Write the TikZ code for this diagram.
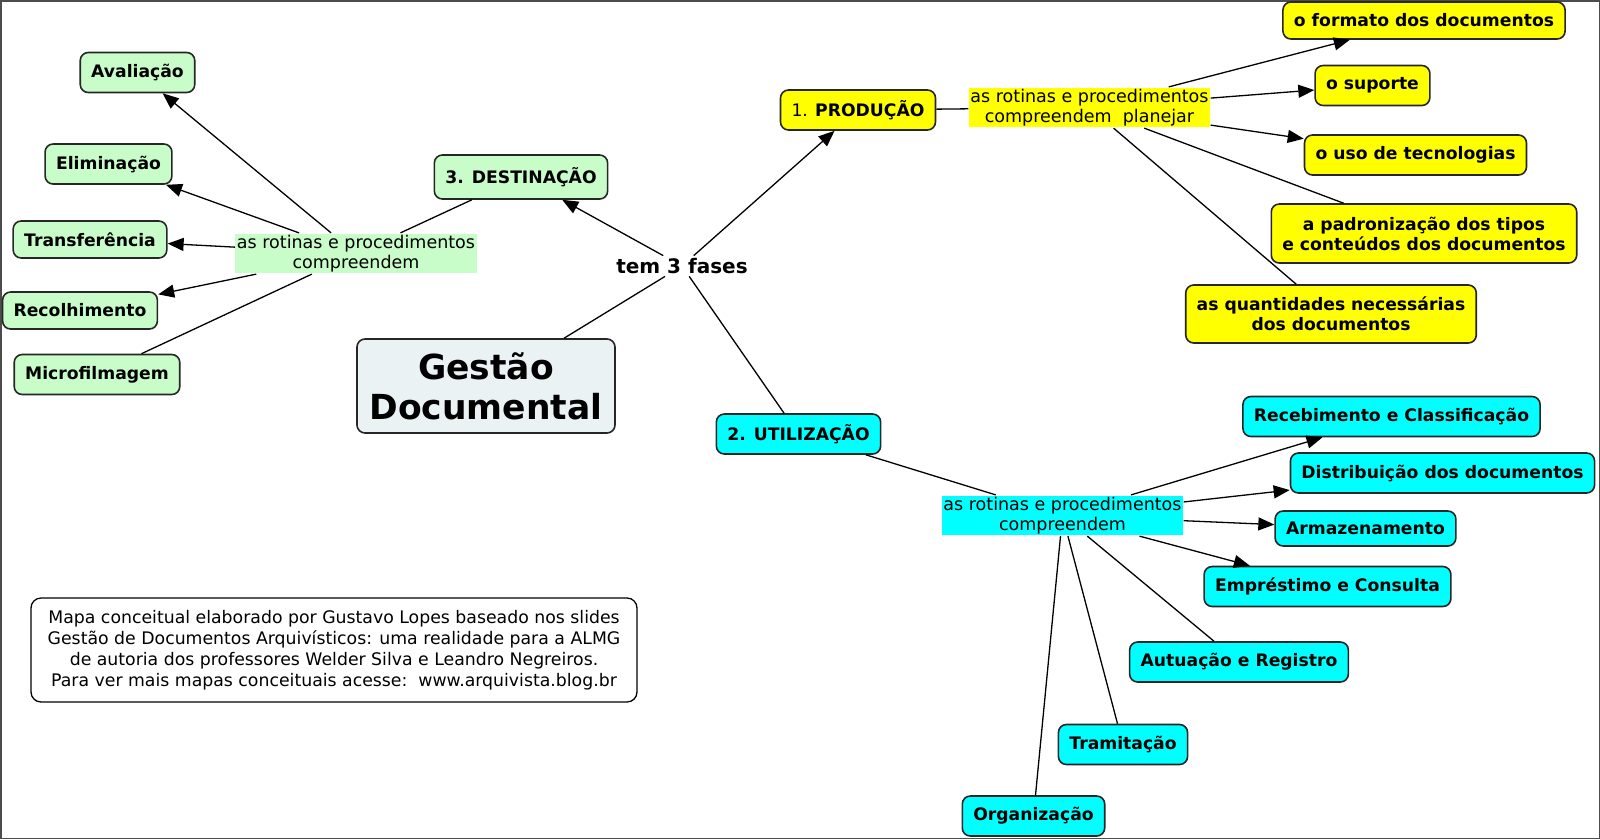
\documentclass[tikz,border=0pt]{standalone}
\usepackage{fontspec}
\setmainfont{DejaVu Sans}
\usetikzlibrary{arrows.meta}

\definecolor{verde}{HTML}{C8FCC8}
\definecolor{amarelo}{HTML}{FFFF00}
\definecolor{ciano}{HTML}{00FFFF}
\definecolor{cinza}{HTML}{EBF2F4}

\tikzset{
  conceito/.style={draw=black!85, line width=1.6pt, rounded corners=8pt,
    minimum height=40pt, inner xsep=11pt, align=center,
    font=\fontsize{17.2}{20}\selectfont\bfseries},
  ligacao/.style={inner sep=1.5pt, align=center,
    font=\fontsize{17.5}{20}\selectfont},
}

\begin{document}
\begin{tikzpicture}[x=1pt, y=-1pt, line width=1.3pt,
    >={Triangle[length=16pt,width=13pt]}]
    \useasboundingbox (0,0) rectangle (1600,839);
    \draw[black!70, line width=1.5pt] (0.75,0.75) rectangle (1599.25,838.25);

    % centro
    \node[conceito, fill=cinza, minimum width=258pt, minimum height=94pt,
      font=\fontsize{34.5}{40}\selectfont\bfseries] (gestao) at (486,386) {Gestão\\Documental};
    \node[inner sep=2pt, font=\fontsize{20}{24}\selectfont\bfseries] (fases) at (682,266) {tem 3 fases};

    % fases
    \node[conceito, fill=amarelo] (producao) at (858,110) {\mdseries 1. \bfseries PRODUÇÃO};
    \node[conceito, fill=ciano] (utilizacao) at (798.5,434) {2. UTILIZAÇÃO};
    \node[conceito, fill=verde, minimum height=44pt] (destinacao) at (521,177) {3. DESTINAÇÃO};

    % frases de ligacao
    \node[ligacao, fill=amarelo] (lkP) at (1089.5,107.5) {as rotinas e procedimentos\\compreendem\ \ planejar};
    \node[ligacao, fill=ciano] (lkU) at (1062.5,515.5) {as rotinas e procedimentos\\compreendem};
    \node[ligacao, fill=verde] (lkD) at (356,253.5) {as rotinas e procedimentos\\compreendem};

    % producao
    \node[conceito, fill=amarelo, minimum height=37pt] (formato) at (1424,20.5) {o formato dos documentos};
    \node[conceito, fill=amarelo] (suporte) at (1372.5,85.5) {o suporte};
    \node[conceito, fill=amarelo] (uso) at (1415.5,155) {o uso de tecnologias};
    \node[conceito, fill=amarelo, minimum height=59pt] (padrao) at (1424,233.5) {a padronização dos tipos\\e conteúdos dos documentos};
    \node[conceito, fill=amarelo, minimum height=58pt] (quant) at (1331,314) {as quantidades necessárias\\dos documentos};

    % utilizacao
    \node[conceito, fill=ciano] (receb) at (1391.5,416.5) {Recebimento e Classificação};
    \node[conceito, fill=ciano] (distrib) at (1442.5,473) {Distribuição dos documentos};
    \node[conceito, fill=ciano, minimum height=35pt] (armaz) at (1365.5,528.5) {Armazenamento};
    \node[conceito, fill=ciano] (emprest) at (1327.5,586.5) {Empréstimo e Consulta};
    \node[conceito, fill=ciano] (autua) at (1239,662) {Autuação e Registro};
    \node[conceito, fill=ciano] (tramit) at (1123,744.5) {Tramitação};
    \node[conceito, fill=ciano] (organiz) at (1033.5,816) {Organização};

    % destinacao
    \node[conceito, fill=verde] (aval) at (137.5,72.5) {Avaliação};
    \node[conceito, fill=verde] (elim) at (108.5,164) {Eliminação};
    \node[conceito, fill=verde, minimum height=37pt] (transf) at (90,239.5) {Transferência};
    \node[conceito, fill=verde, minimum height=37pt] (recolh) at (80,310.5) {Recolhimento};
    \node[conceito, fill=verde] (microf) at (97,374.5) {Microfilmagem};

    % nota
    \node[draw, rounded corners=10pt, line width=1.3pt, minimum width=606pt,
      minimum height=104pt, align=center, font=\fontsize{17.3}{21}\selectfont] (nota) at (334,650)
      {Mapa conceitual elaborado por Gustavo Lopes baseado nos slides\\
       Gestão de Documentos Arquivísticos: uma realidade para a ALMG\\
       de autoria dos professores Welder Silva e Leandro Negreiros.\\
       Para ver mais mapas conceituais acesse:\ \ www.arquivista.blog.br};

    \path (fases)      edge      (gestao)
          (fases)      edge[->]  (producao)
          (fases)      edge      (utilizacao)
          (fases)      edge[->]  (destinacao)
          (producao)   edge      (lkP)
          (utilizacao) edge      (lkU)
          (destinacao) edge      (lkD);

    \foreach \n in {formato,suporte,uso} {\draw[->] (lkP) -- (\n);};
    \foreach \n in {padrao,quant} {\draw (lkP) -- (\n);};
    \foreach \n in {receb,distrib,armaz,emprest} {\draw[->] (lkU) -- (\n);};
    \foreach \n in {autua,tramit,organiz} {\draw (lkU) -- (\n);};
    \foreach \n in {aval,elim,transf,recolh} {\draw[->] (lkD) -- (\n);};
    \draw (lkD) -- (microf);
\end{tikzpicture}
\end{document}
